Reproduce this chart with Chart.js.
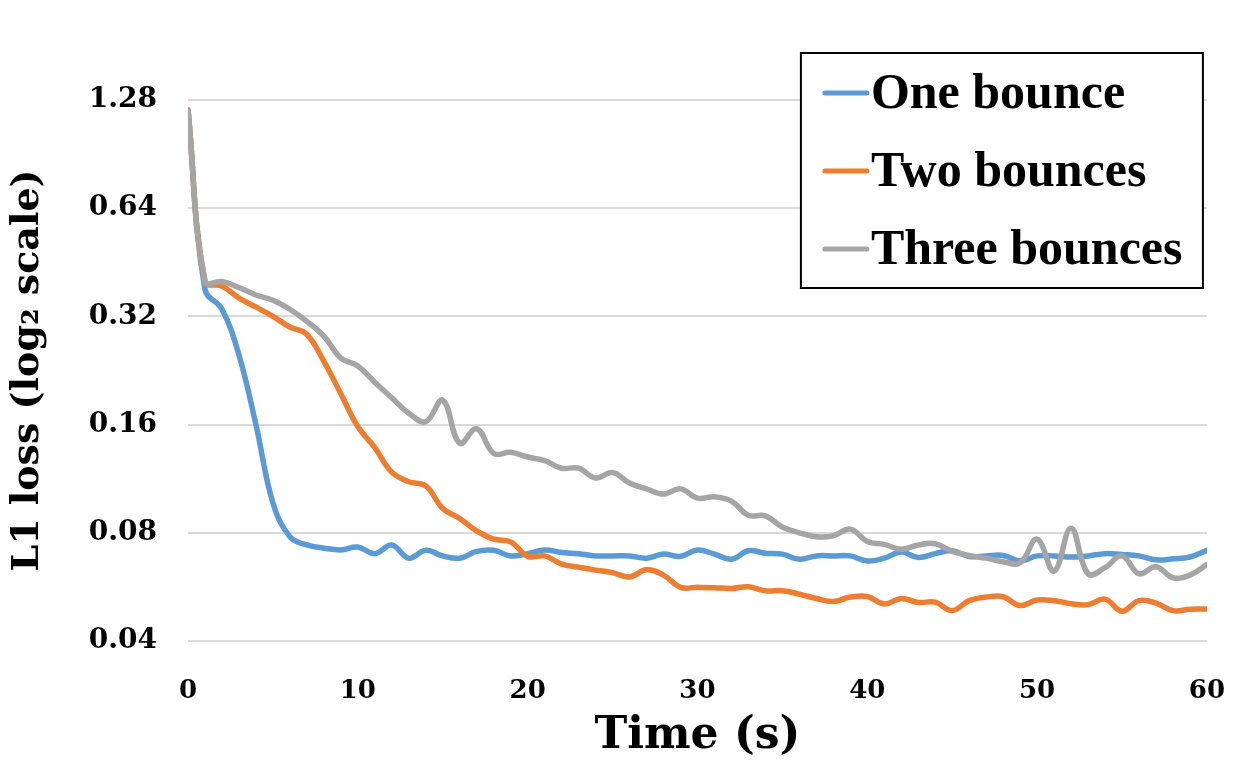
<!DOCTYPE html>
<html>
<head>
<meta charset="utf-8">
<title>L1 loss over time</title>
<script src="https://cdn.jsdelivr.net/npm/chart.js@4.4.1/dist/chart.umd.min.js"></script>
<style>
  html, body { margin: 0; padding: 0; background: #fff; }
  #chart { display: block; }
</style>
</head>
<body>
<canvas id="chart" width="1252" height="779"></canvas>
<script>
// ---- data ----
const times = [0,1,2,3,4,5,6,7,8,9,10,11,12,13,14,15,16,17,18,19,20,
  21,22,23,24,25,26,27,28,29,30,31,32,33,34,35,36,37,38,39,40,
  41,42,43,44,45,46,47,48,49,50,51,52,53,54,55,56,57,58,59,60];

const oneBounce = [1.2,0.38,0.335,0.25,0.16,0.097,0.078,0.074,0.0725,0.0717,0.073,
  0.070,0.074,0.068,0.0715,0.069,0.068,0.071,0.0715,0.069,0.070,
  0.0717,0.0705,0.070,0.069,0.069,0.069,0.068,0.0698,0.0688,0.0716,
  0.0698,0.0675,0.0713,0.0702,0.0698,0.0675,0.069,0.069,0.069,0.0668,
  0.068,0.0707,0.0683,0.070,0.0713,0.0687,0.069,0.0692,0.0668,0.069,
  0.069,0.0685,0.069,0.070,0.0696,0.069,0.0673,0.0677,0.0685,0.0715];

const twoBounces = [1.2,0.40,0.389,0.36,0.34,0.32,0.299,0.285,0.24,0.195,0.158,
  0.138,0.118,0.111,0.108,0.0935,0.0877,0.081,0.0768,0.0755,0.0688,
  0.069,0.0655,0.0642,0.063,0.062,0.0603,0.0631,0.061,0.0564,0.0564,
  0.0563,0.056,0.0566,0.0552,0.0552,0.054,0.0525,0.0515,0.053,0.0532,
  0.0507,0.0525,0.0512,0.0513,0.0486,0.0518,0.053,0.0531,0.0502,0.052,
  0.0518,0.0508,0.0505,0.0523,0.0484,0.0518,0.051,0.0486,0.049,0.0491];

const threeBounces = [1.2,0.40,0.40,0.385,0.367,0.355,0.335,0.31,0.282,0.245,0.233,
  0.21,0.19,0.172,0.163,0.187,0.142,0.156,0.133,0.134,0.13,
  0.127,0.121,0.121,0.1136,0.1177,0.110,0.106,0.1025,0.106,0.0999,
  0.1008,0.098,0.0895,0.0892,0.083,0.080,0.078,0.0785,0.0819,0.0757,
  0.0743,0.072,0.074,0.0746,0.071,0.0692,0.068,0.0665,0.066,0.0768,
  0.0626,0.0824,0.0615,0.064,0.069,0.0615,0.0644,0.060,0.061,0.0653];

const seriesNames = ['One bounce', 'Two bounces', 'Three bounces'];
const seriesColors = ['#5B9BD5', '#ED7D31', '#A5A5A5'];
const yTicks = [0.04, 0.08, 0.16, 0.32, 0.64, 1.28];
const xTicks = [0, 10, 20, 30, 40, 50, 60];

(function () {
  'use strict';

  const serif = "'DejaVu Serif', serif";
  const toPoints = (vals) => vals.map((v, i) => ({ x: times[i], y: v }));
  const allSeries = [oneBounce, twoBounces, threeBounces];

  const datasets = allSeries.map((vals, i) => ({
    label: seriesNames[i],
    data: toPoints(vals),
    borderColor: seriesColors[i],
    backgroundColor: seriesColors[i],
    borderWidth: 5.5,
    borderCapStyle: 'round',
    borderJoinStyle: 'round',
    pointRadius: 0,
    tension: 0.4,
    fill: false
  }));
  // grey drawn on top like the reference
  datasets.reverse();

  // Boxed legend drawn inside the plot, top right
  const boxLegend = {
    id: 'boxLegend',
    afterDraw(chart) {
      const ctx = chart.ctx;
      const area = chart.chartArea;
      const w = 402, h = 235;
      const x0 = area.right - 4 - w, y0 = area.top - 47;
      ctx.save();
      ctx.fillStyle = '#fff';
      ctx.fillRect(x0, y0, w, h);
      ctx.strokeStyle = '#000';
      ctx.lineWidth = 2;
      ctx.strokeRect(x0, y0, w, h);
      ctx.font = "bold 50px 'Liberation Serif', 'Times New Roman', serif";
      ctx.textBaseline = 'middle';
      ctx.fillStyle = '#000';
      ctx.lineCap = 'round';
      seriesNames.forEach((name, i) => {
        const cy = y0 + 40 + i * 78;
        ctx.strokeStyle = seriesColors[i];
        ctx.lineWidth = 5;
        ctx.beginPath();
        ctx.moveTo(x0 + 24, cy);
        ctx.lineTo(x0 + 66, cy);
        ctx.stroke();
        ctx.fillText(name, x0 + 70, cy + 2);
      });
      ctx.restore();
    }
  };

  new Chart(document.getElementById('chart'), {
    type: 'line',
    data: { datasets },
    options: {
      responsive: false,
      animation: false,
      devicePixelRatio: 1,
      layout: { padding: { top: 100, right: 45, left: 0, bottom: 0 } },
      plugins: {
        legend: { display: false },
        tooltip: { enabled: false }
      },
      scales: {
        x: {
          type: 'linear',
          min: 0,
          max: 60,
          afterFit: (axis) => { axis.height = 138; },
          afterBuildTicks: (axis) => { axis.ticks = xTicks.map(v => ({ value: v })); },
          grid: { display: false },
          border: { display: false },
          ticks: {
            color: '#000',
            padding: 27,
            maxRotation: 0,
            font: { family: serif, weight: 'bold', size: 26 }
          },
          title: {
            display: true,
            text: 'Time (s)',
            color: '#000',
            padding: { top: 0, bottom: 16 },
            font: { family: serif, weight: 'bold', size: 44 }
          }
        },
        y: {
          type: 'logarithmic',
          min: 0.04,
          max: 1.28,
          afterFit: (axis) => { axis.width = 188; },
          afterBuildTicks: (axis) => { axis.ticks = yTicks.map(v => ({ value: v })); },
          grid: { color: '#d9d9d9', lineWidth: 2, drawTicks: false },
          border: { display: false },
          ticks: {
            color: '#000',
            padding: 31,
            callback: (v) => Number(v).toFixed(2),
            font: { family: serif, weight: 'bold', size: 28 }
          },
          title: {
            display: true,
            text: 'L1 loss (log\u2082 scale)',
            color: '#000',
            padding: { top: 5, bottom: 0 },
            font: { family: serif, weight: 'bold', size: 38 }
          }
        }
      }
    },
    plugins: [boxLegend]
  });
})();
</script>
</body>
</html>
